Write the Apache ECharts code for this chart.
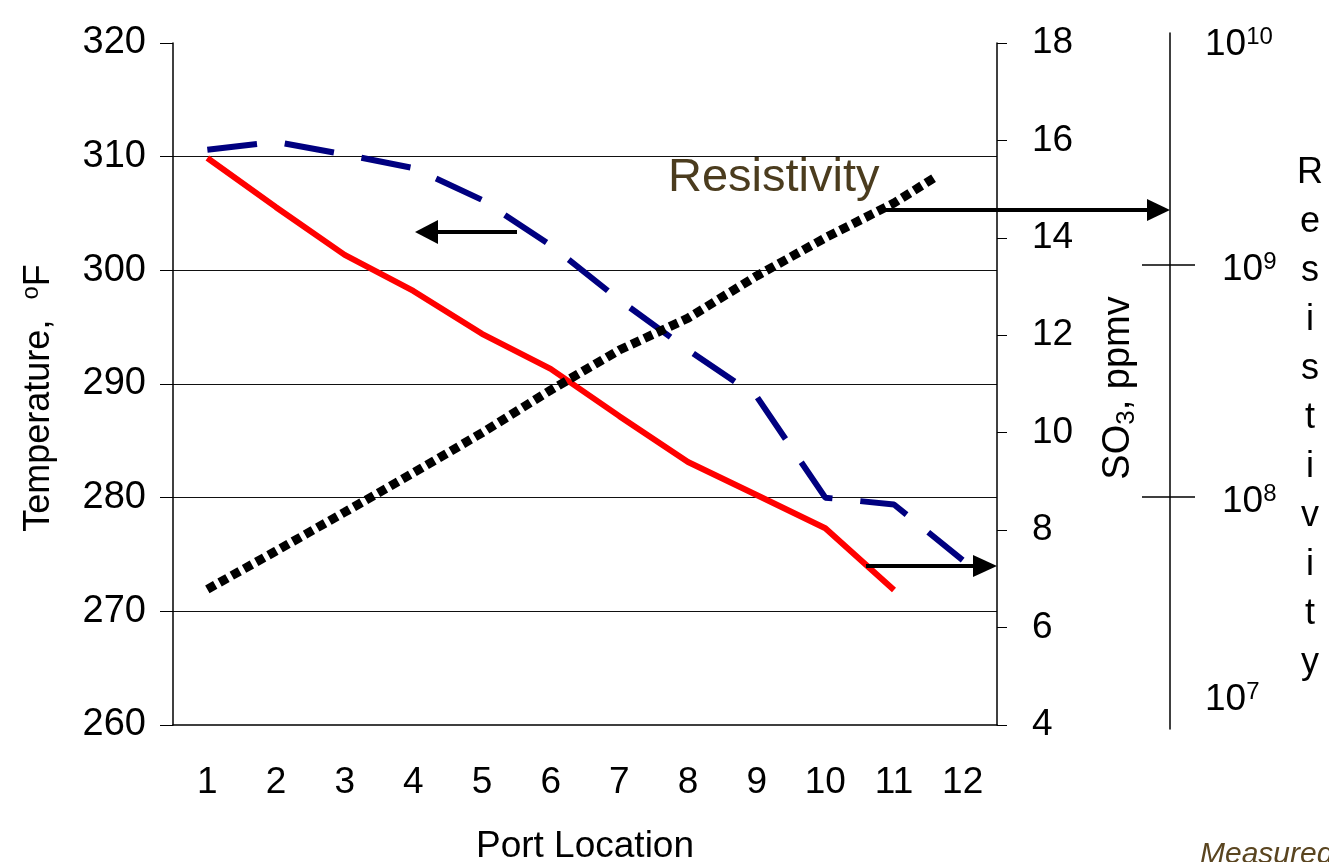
<!DOCTYPE html>
<html><head><meta charset="utf-8">
<script src="https://cdn.jsdelivr.net/npm/echarts@6/dist/echarts.min.js"></script>
<style>html,body{margin:0;padding:0;background:#fff}#c{width:1329px;height:862px}</style>
</head><body><div id="c"></div>
<script>
// ---- data ----
const ports = ['1','2','3','4','5','6','7','8','9','10','11','12'];
// dashed navy line, left axis (Temperature, oF)
const temperatureF = [310.6, 311.3, 310.2, 309.0, 306.2, 302.2, 297.4, 293.0, 288.9, 280.0, 279.4, 274.5];
// solid red line, right axis (SO3, ppmv)
const so3Ppmv = [15.64, 14.63, 13.65, 12.91, 12.03, 11.31, 10.34, 9.40, 8.72, 8.04, 6.77, null];
// dotted black line, resistivity (log) axis
const resistivityPort = [1, 2, 3, 4, 5, 6, 7, 8, 9, 10, 11, 11.6];
const resistivity = [4.0e7, 5.85e7, 8.6e7, 1.27e8, 1.89e8, 2.89e8, 4.3e8, 5.9e8, 8.97e8, 1.31e9, 1.85e9, 2.39e9];
const resistivityTicks = [1e8, 1e9];

const F = "'Liberation Sans', Arial, sans-serif";
const chart = echarts.init(document.getElementById('c'), null, {renderer: 'canvas'});

function supLabel(v) {
  const e = Math.round(Math.log10(v));
  if (e === 10) return '{sp1| }\n{b|10}{e|' + e + '}';
  if (e === 7) return '{b|10}{e|' + e + '}\n{sp2| }';
  return '{sp3| }\n{pad| }{b|10}{e|' + e + '}';
}
const supRich = {
  b: {fontSize: 37, lineHeight: 40, verticalAlign: 'middle', color: '#000', fontFamily: F},
  e: {fontSize: 24, lineHeight: 24, verticalAlign: 'top', color: '#000', fontFamily: F},
  sp1: {fontSize: 1, height: 24, lineHeight: 24},
  sp2: {fontSize: 1, height: 58, lineHeight: 58},
  sp3: {fontSize: 1, height: 10, lineHeight: 10},
  pad: {fontSize: 1, width: 17}
};

const resName = '{sp| }\n' + 'Resistivity'.split('').map(c => '{l|' + c + '}').join('\n');

const resData = resistivityPort.map((x, i) => [x, resistivity[i]]);

const option = {
  animation: false,
  backgroundColor: '#fff',
  textStyle: {fontFamily: F},
  grid: [
    {left: 173, right: 332, top: 43, bottom: 137, outerBoundsMode: 'none', containLabel: false},
    {left: 173, right: 332, top: 33, height: 696, outerBoundsMode: 'none', containLabel: false}
  ],
  xAxis: [
    {
      type: 'category', gridIndex: 0, data: ports, boundaryGap: true,
      axisLine: {lineStyle: {color: '#000', width: 1.5}},
      axisTick: {length: 12, lineStyle: {color: '#000'}},
      axisLabel: {color: '#000', fontSize: 37, margin: 39, fontFamily: F},
      splitLine: {show: false},
      name: 'Port Location', nameLocation: 'middle', nameGap: 103,
      nameTextStyle: {color: '#000', fontSize: 37, fontFamily: F}
    },
    {type: 'value', gridIndex: 1, min: 0.5, max: 12.5, show: false}
  ],
  yAxis: [
    {
      type: 'value', gridIndex: 0, min: 260, max: 320, interval: 10, position: 'left',
      axisLine: {show: true, lineStyle: {color: '#000', width: 1.5}},
      axisTick: {show: true, length: 13, lineStyle: {color: '#000'}},
      splitLine: {show: true, showMaxLine: false, showMinLine: false, lineStyle: {color: '#111', width: 1}},
      axisLabel: {color: '#000', fontSize: 38, margin: 27, fontFamily: F, padding: [6, 0, 0, 0]},
      name: '{a|Temperature,  }{s|o}{a|F}', nameLocation: 'middle', nameGap: 114, nameRotate: 90,
      nameTextStyle: {padding: [0, 28, 0, 0], rich: {
        a: {fontSize: 36, lineHeight: 40, verticalAlign: 'middle', color: '#000', fontFamily: F},
        s: {fontSize: 24, lineHeight: 24, verticalAlign: 'top', color: '#000', fontFamily: F}
      }}
    },
    {
      type: 'value', gridIndex: 0, min: 4, max: 18, interval: 2, position: 'right',
      axisLine: {show: true, lineStyle: {color: '#000', width: 1.5}},
      axisTick: {show: true, length: 10, lineStyle: {color: '#000'}},
      splitLine: {show: false},
      axisLabel: {color: '#000', fontSize: 37, margin: 35, fontFamily: F, padding: [6, 0, 0, 0]},
      name: '{a|SO}{s|3}{a|, ppmv}', nameLocation: 'middle', nameGap: 101, nameRotate: 90,
      nameTextStyle: {padding: [0, 8, 0, 0], rich: {
        a: {fontSize: 38, lineHeight: 42, verticalAlign: 'middle', color: '#000', fontFamily: F},
        s: {fontSize: 26, lineHeight: 26, verticalAlign: 'bottom', color: '#000', fontFamily: F}
      }}
    },
    {
      type: 'log', logBase: 10, gridIndex: 1, min: 1e7, max: 1e10, position: 'right', offset: 173,
      axisLine: {show: true, lineStyle: {color: '#000', width: 1.5}},
      axisTick: {show: true, length: 25, customValues: resistivityTicks, lineStyle: {color: '#000', width: 1.5}},
      splitLine: {show: false},
      axisLabel: {margin: 35, showMinLabel: true, showMaxLabel: true, formatter: supLabel, rich: supRich},
      name: resName, nameLocation: 'middle', nameGap: 140, nameRotate: 0,
      nameTextStyle: {align: 'center', verticalAlign: 'middle', rich: {
        l: {fontSize: 36, lineHeight: 49, align: 'center', color: '#000', fontFamily: F},
        sp: {fontSize: 1, height: 74, lineHeight: 74}
      }}
    },
    {
      type: 'log', logBase: 10, gridIndex: 1, min: 1e7, max: 1e10, position: 'right', offset: 173,
      axisLine: {show: false},
      axisTick: {show: true, inside: true, length: 28, customValues: resistivityTicks, lineStyle: {color: '#000', width: 1.5}},
      splitLine: {show: false},
      axisLabel: {show: false}
    }
  ],
  series: [
    {
      name: 'Temperature', type: 'line', xAxisIndex: 0, yAxisIndex: 0, data: temperatureF,
      symbol: 'none', z: 3,
      lineStyle: {color: '#000080', width: 6, type: [50, 28], cap: 'butt'}
    },
    {
      name: 'SO3', type: 'line', xAxisIndex: 0, yAxisIndex: 1, data: so3Ppmv,
      symbol: 'none', z: 4,
      lineStyle: {color: '#ff0000', width: 6}
    },
    {
      name: 'Resistivity', type: 'line', xAxisIndex: 1, yAxisIndex: 2, data: resData,
      symbol: 'none', z: 5,
      lineStyle: {color: '#000', width: 9, type: [9, 5], cap: 'butt'}
    }
  ],
  graphic: [
    {type: 'text', z: 10, style: {text: 'Resistivity', x: 668, y: 178, verticalAlign: 'middle', font: '47px ' + F, fill: '#4b3c1e'}},
    {type: 'line', z: 10, shape: {x1: 517, y1: 232, x2: 436, y2: 232}, style: {stroke: '#000', lineWidth: 4}},
    {type: 'polygon', z: 10, shape: {points: [[415, 232], [438, 220], [438, 244]]}, style: {fill: '#000'}},
    {type: 'line', z: 10, shape: {x1: 882, y1: 210, x2: 1150, y2: 210}, style: {stroke: '#000', lineWidth: 4}},
    {type: 'polygon', z: 10, shape: {points: [[1170, 210], [1147, 199], [1147, 221]]}, style: {fill: '#000'}},
    {type: 'line', z: 10, shape: {x1: 866, y1: 566, x2: 976, y2: 566}, style: {stroke: '#000', lineWidth: 4}},
    {type: 'polygon', z: 10, shape: {points: [[997, 566], [973, 555], [973, 577]]}, style: {fill: '#000'}},
    {type: 'text', z: 10, style: {text: 'Measured', x: 1200, y: 840, verticalAlign: 'top', font: 'italic 30px ' + F, fill: '#5a4520'}}
  ]
};
chart.setOption(option);
</script>
</body></html>
